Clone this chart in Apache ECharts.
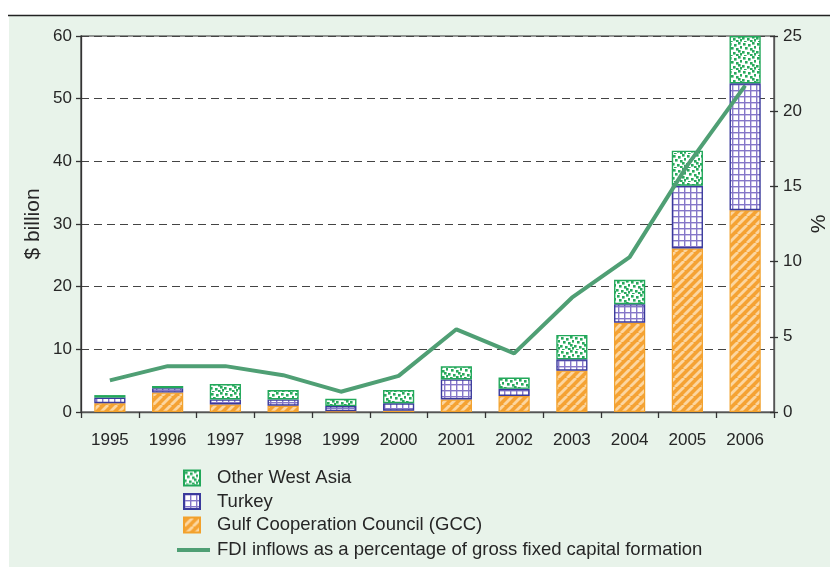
<!DOCTYPE html>
<html>
<head>
<meta charset="utf-8">
<style>
  html, body { margin: 0; padding: 0; background: #ffffff; }
  #chart { width: 830px; height: 569px; }
</style>
<script src="https://cdn.jsdelivr.net/npm/echarts@6/dist/echarts.min.js"></script>
</head>
<body>
<div id="chart"></div>
<script>
// FDI inflows into West Asia, 1995–2006
const years = ['1995', '1996', '1997', '1998', '1999', '2000', '2001', '2002', '2003', '2004', '2005', '2006'];
const gcc = [1.4, 3.1, 1.2, 1.0, 0.1, 0.2, 2.0, 2.55, 6.6, 14.25, 26.1, 32.2];
const turkey = [0.9, 0.7, 0.8, 1.0, 0.85, 1.2, 3.2, 1.15, 1.8, 2.95, 10.0, 20.25];
const otherWestAsia = [0.4, 0.35, 2.45, 1.5, 1.15, 2.1, 2.1, 1.8, 3.9, 3.9, 5.6, 7.55];
const fdiShareGfcf = [2.1, 3.05, 3.05, 2.45, 1.35, 2.4, 5.5, 3.9, 7.6, 10.3, 16.4, 21.7];
const leftTicks = { min: 0, max: 60, interval: 10 };
const rightTicks = { min: 0, max: 25, interval: 5 };

const FONT = '"Liberation Sans", Arial, sans-serif';
const TEXT = '#262626';

// Fill textures for the three bar segments
function tile(size, draw) {
  const c = document.createElement('canvas');
  c.width = size; c.height = size;
  draw(c.getContext('2d'), size);
  return c;
}
const stripeTile = tile(9, (g, s) => {
  g.fillStyle = '#f5a233';
  g.fillRect(0, 0, s, s);
  g.strokeStyle = '#fcd6a0';
  g.lineWidth = 2.8;
  for (const k of [-s, 0, s]) {
    g.beginPath();
    g.moveTo(k, s);
    g.lineTo(k + s, 0);
    g.stroke();
  }
});
const gridTile = tile(6, (g, s) => {
  g.fillStyle = '#ffffff';
  g.fillRect(0, 0, s, s);
  g.fillStyle = '#8577c8';
  g.fillRect(0, 0, s, 1.4);
  g.fillRect(0, 0, 1.4, s);
});
const dotTile = tile(14, (g, s) => {
  g.fillStyle = '#ffffff';
  g.fillRect(0, 0, s, s);
  g.fillStyle = '#27a95c';
  const dots = [[1, 1], [6, 2], [10, 0], [3, 5], [8, 6], [12, 4], [0, 9], [5, 10], [12, 11], [8, 12], [10, 8], [2, 13]];
  dots.forEach(([x, y]) => g.fillRect(x, y, 2.6, 2.6));
});

const chart = echarts.init(document.getElementById('chart'), null, { renderer: 'canvas' });

const axisLabel = { color: TEXT, fontSize: 17, fontFamily: FONT };

chart.setOption({
  backgroundColor: '#ffffff',
  animation: false,
  graphic: [
    { type: 'rect', z: -10, shape: { x: 9, y: 16, width: 821, height: 551 }, style: { fill: '#e8f3ea' } },
    { type: 'line', z: -5, shape: { x1: 8, y1: 15.5, x2: 830, y2: 15.5 }, style: { stroke: '#222', lineWidth: 1.6 } }
  ],
  grid: {
    left: 81, right: 56, top: 36, bottom: 157,
    outerBoundsMode: 'none', containLabel: false,
    show: true, backgroundColor: '#ffffff', borderColor: '#333', borderWidth: 1.2
  },
  legend: [
    {
      data: ['Other West Asia', 'Turkey', 'Gulf Cooperation Council (GCC)'],
      orient: 'vertical', left: 183, top: 468, padding: 0,
      icon: 'rect',
      itemWidth: 16, itemHeight: 15, itemGap: 3.5,
      selectedMode: false,
      textStyle: { color: TEXT, fontSize: 18.5, fontFamily: FONT, lineHeight: 20, padding: [0, 0, 0, 12] }
    },
    {
      data: ['FDI inflows as a percentage of gross fixed capital formation'],
      left: 177, top: 540, padding: 0,
      icon: 'rect',
      itemWidth: 33, itemHeight: 4,
      selectedMode: false,
      textStyle: { color: TEXT, fontSize: 18.5, fontFamily: FONT, lineHeight: 20, padding: [0, 0, 0, 2] }
    }
  ],
  xAxis: {
    type: 'category',
    data: years,
    axisLine: { lineStyle: { color: '#555', width: 1.3 } },
    axisTick: { show: true, length: 6, lineStyle: { color: '#333', width: 1.3 } },
    axisLabel: Object.assign({ margin: 20 }, axisLabel)
  },
  yAxis: [
    {
      type: 'value', position: 'left',
      min: leftTicks.min, max: leftTicks.max, interval: leftTicks.interval,
      name: '$ billion', nameLocation: 'middle', nameGap: 37, nameRotate: 90,
      nameMoveOverlap: false,
      nameTextStyle: { color: TEXT, fontSize: 21, fontFamily: FONT },
      axisLine: { show: true, lineStyle: { color: '#333', width: 1.3 } },
      axisTick: { show: true, length: 5, lineStyle: { color: '#333', width: 1.3 } },
      axisLabel: Object.assign({ margin: 9 }, axisLabel),
      splitLine: { show: true, lineStyle: { color: '#444', width: 1.2, type: [8, 5] } }
    },
    {
      type: 'value', position: 'right',
      min: rightTicks.min, max: rightTicks.max, interval: rightTicks.interval,
      name: '%', nameLocation: 'middle', nameGap: 35, nameRotate: 90,
      nameMoveOverlap: false,
      nameTextStyle: { color: TEXT, fontSize: 21, fontFamily: FONT },
      axisLine: { show: true, lineStyle: { color: '#555', width: 1.3 } },
      axisTick: { show: true, length: 4, lineStyle: { color: '#333', width: 1.3 } },
      axisLabel: Object.assign({ margin: 9 }, axisLabel),
      splitLine: { show: false }
    },
    {
      // inner half of the right-hand ticks
      type: 'value', position: 'right',
      min: rightTicks.min, max: rightTicks.max, interval: rightTicks.interval,
      axisLine: { show: false },
      axisTick: { show: true, inside: true, length: 4, lineStyle: { color: '#333', width: 1.3 } },
      axisLabel: { show: false },
      splitLine: { show: false }
    }
  ],
  series: [
    {
      name: 'Gulf Cooperation Council (GCC)', type: 'bar', stack: 'fdi',
      data: gcc, barWidth: '54%',
      itemStyle: { color: { image: stripeTile, repeat: 'repeat' }, borderColor: '#f2a12c', borderWidth: 1.2 }
    },
    {
      name: 'Turkey', type: 'bar', stack: 'fdi',
      data: turkey, barWidth: '54%',
      itemStyle: { color: { image: gridTile, repeat: 'repeat' }, borderColor: '#3a3a9c', borderWidth: 1.4 }
    },
    {
      name: 'Other West Asia', type: 'bar', stack: 'fdi',
      data: otherWestAsia, barWidth: '54%',
      itemStyle: { color: { image: dotTile, repeat: 'repeat' }, borderColor: '#22a85a', borderWidth: 1.4 }
    },
    {
      name: 'FDI inflows as a percentage of gross fixed capital formation',
      type: 'line', yAxisIndex: 1,
      data: fdiShareGfcf,
      symbol: 'none', showSymbol: false,
      lineStyle: { color: '#4f9f74', width: 4 },
      itemStyle: { color: '#4f9f74' },
      z: 5
    }
  ]
});
</script>
</body>
</html>
